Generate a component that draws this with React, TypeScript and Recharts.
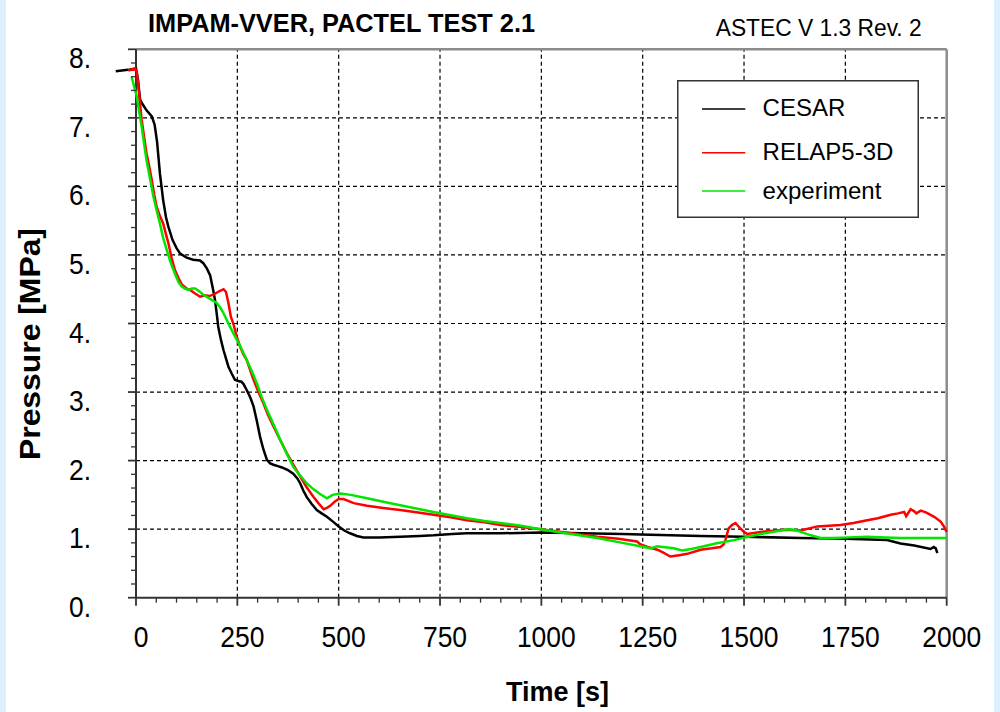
import React from 'react';
import { LineChart, Line, XAxis, YAxis, ReferenceLine, Legend } from 'recharts';

// ---- data (time [s], pressure [MPa]) ----
const cesarTime = [-50, -20, 0, 5, 10, 14, 26, 39, 46, 52, 59, 67, 74, 80, 90, 100, 109, 125, 141, 158, 166, 175, 183, 191, 195, 200, 203, 210, 216, 228, 236, 244, 252, 260, 265, 273, 282, 290, 298, 306, 314, 323, 331, 339, 350, 360, 375, 388, 398, 405, 413, 421, 433, 446, 458, 471, 486, 500, 514, 528, 545, 561, 600, 652, 700, 734, 780, 816, 899, 998, 1100, 1200, 1269, 1393, 1500, 1640, 1750, 1853, 1886, 1920, 1960, 1968, 1973, 1977];
const cesarPressure = [7.68, 7.70, 7.72, 7.55, 7.27, 7.22, 7.11, 7.02, 6.90, 6.65, 6.19, 5.80, 5.55, 5.41, 5.22, 5.10, 5.02, 4.96, 4.93, 4.92, 4.88, 4.80, 4.70, 4.47, 4.34, 4.10, 3.95, 3.75, 3.61, 3.37, 3.27, 3.18, 3.16, 3.15, 3.12, 3.03, 2.92, 2.79, 2.58, 2.35, 2.17, 2.01, 1.96, 1.94, 1.92, 1.90, 1.86, 1.81, 1.74, 1.67, 1.56, 1.47, 1.37, 1.28, 1.23, 1.18, 1.11, 1.04, 0.98, 0.94, 0.90, 0.88, 0.88, 0.89, 0.90, 0.91, 0.93, 0.94, 0.94, 0.95, 0.94, 0.93, 0.92, 0.90, 0.89, 0.87, 0.86, 0.84, 0.79, 0.76, 0.71, 0.74, 0.72, 0.65];

const relapTime = [-19, -2, 2, 6, 10, 14, 20, 26, 33, 39, 45, 51, 59, 67, 74, 80, 88, 96, 105, 113, 125, 133, 145, 158, 170, 180, 191, 205, 216, 222, 228, 234, 240, 249, 257, 265, 273, 280, 290, 300, 314, 326, 339, 355, 372, 388, 405, 421, 438, 450, 463, 471, 479, 490, 500, 512, 525, 537, 570, 610, 652, 700, 734, 780, 816, 860, 899, 950, 998, 1060, 1100, 1138, 1190, 1236, 1244, 1262, 1286, 1300, 1318, 1340, 1360, 1393, 1420, 1442, 1450, 1454, 1462, 1470, 1479, 1491, 1500, 1508, 1541, 1598, 1640, 1681, 1738, 1770, 1804, 1830, 1862, 1880, 1895, 1900, 1911, 1920, 1925, 1936, 1950, 1969, 1985, 1993, 2000];
const relapPressure = [7.69, 7.72, 7.67, 7.45, 7.20, 6.97, 6.72, 6.48, 6.28, 6.09, 5.88, 5.70, 5.57, 5.46, 5.30, 5.17, 4.95, 4.78, 4.66, 4.57, 4.51, 4.49, 4.44, 4.39, 4.41, 4.40, 4.42, 4.47, 4.50, 4.46, 4.30, 4.10, 4.00, 3.80, 3.66, 3.55, 3.47, 3.35, 3.18, 3.03, 2.84, 2.66, 2.50, 2.31, 2.11, 1.94, 1.77, 1.61, 1.47, 1.38, 1.29, 1.31, 1.34, 1.40, 1.44, 1.44, 1.41, 1.38, 1.34, 1.31, 1.28, 1.24, 1.21, 1.17, 1.13, 1.10, 1.06, 1.03, 1.00, 0.95, 0.92, 0.89, 0.86, 0.82, 0.78, 0.74, 0.70, 0.66, 0.60, 0.62, 0.64, 0.70, 0.72, 0.74, 0.78, 0.84, 1.01, 1.06, 1.09, 1.01, 0.96, 0.93, 0.96, 0.99, 0.98, 1.04, 1.06, 1.09, 1.13, 1.16, 1.21, 1.23, 1.25, 1.19, 1.29, 1.26, 1.23, 1.27, 1.24, 1.18, 1.11, 1.04, 0.96];

const expTime = [-11, 2, 8, 14, 20, 26, 35, 43, 51, 59, 67, 76, 86, 96, 105, 113, 121, 129, 138, 146, 156, 166, 183, 199, 207, 216, 228, 240, 257, 273, 286, 298, 310, 323, 340, 356, 372, 388, 405, 421, 438, 455, 471, 485, 504, 530, 570, 610, 652, 700, 734, 780, 816, 860, 899, 950, 998, 1060, 1138, 1200, 1244, 1269, 1286, 1300, 1327, 1347, 1370, 1393, 1430, 1475, 1510, 1541, 1580, 1607, 1625, 1640, 1665, 1689, 1720, 1760, 1804, 1850, 1886, 1950, 2000];
const expPressure = [7.60, 7.31, 7.08, 6.87, 6.62, 6.38, 6.10, 5.85, 5.65, 5.46, 5.25, 5.07, 4.88, 4.73, 4.60, 4.54, 4.51, 4.49, 4.51, 4.51, 4.47, 4.42, 4.36, 4.30, 4.24, 4.15, 4.00, 3.86, 3.67, 3.47, 3.30, 3.13, 2.93, 2.74, 2.52, 2.30, 2.10, 1.91, 1.78, 1.67, 1.58, 1.51, 1.45, 1.50, 1.52, 1.50, 1.45, 1.40, 1.35, 1.29, 1.25, 1.20, 1.16, 1.12, 1.09, 1.05, 1.00, 0.94, 0.87, 0.80, 0.75, 0.72, 0.75, 0.74, 0.72, 0.69, 0.71, 0.74, 0.79, 0.84, 0.89, 0.93, 0.97, 1.00, 0.99, 0.96, 0.91, 0.87, 0.87, 0.88, 0.89, 0.88, 0.87, 0.87, 0.87];

const seriesNames = ['CESAR', 'RELAP5-3D', 'experiment'];
const seriesColors = ['#000000', '#ff0000', '#00e600'];

const xTicks = Array.from({ length: 41 }, (_, i) => i * 50);
const xMajor = [250, 500, 750, 1000, 1250, 1500, 1750];
const yTicks = Array.from({ length: 41 }, (_, i) => i / 5);
const yMajor = [1, 2, 3, 4, 5, 6, 7];

const zip = (t: number[], p: number[]) => t.map((v, i) => ({ t: v, p: p[i] }));
const cesarData = zip(cesarTime, cesarPressure);
const relapData = zip(relapTime, relapPressure);
const expData = zip(expTime, expPressure);

// ---- layout ----
const W = 1000;
const H = 712;
const PLOT_TOP = 49.3;
const PLOT_BOTTOM = 597.7;
const PLOT_RIGHT = 946.7;
const X_MIN = -50;
const X_MAX = 2000;
const AXIS_X = 136;
const PLOT_LEFT = AXIS_X - ((0 - X_MIN) / X_MAX) * (PLOT_RIGHT - AXIS_X);
const AXIS_SIZE = 1;
const FONT = "'Liberation Sans', Arial, Helvetica, sans-serif";

function StretchText(props: any) {
  const { x, y, sy = 1, children, ...rest } = props;
  return (
    <text transform={`translate(${x},${y}) scale(1,${sy})`} x={0} y={0} fontFamily={FONT} fill="#000" {...rest}>
      {children}
    </text>
  );
}

function XTick(props: any) {
  const { x, payload } = props;
  const v = payload.value;
  const major = v % 250 === 0;
  return (
    <g>
      <line x1={x} x2={x} y1={PLOT_BOTTOM} y2={PLOT_BOTTOM + (major ? 8 : 5)} stroke="#333" strokeWidth={major ? 1.8 : 1.3} />
      {major && (
        <StretchText x={x + 5} y={647} sy={1.12} fontSize={26.5} textAnchor="middle">
          {String(v)}
        </StretchText>
      )}
    </g>
  );
}

function YTick(props: any) {
  const { y, payload } = props;
  const v = payload.value;
  const major = Math.abs(v - Math.round(v)) < 1e-6;
  return (
    <g>
      <line x1={AXIS_X - (major ? 8 : 5)} x2={AXIS_X} y1={y} y2={y} stroke="#333" strokeWidth={major ? 1.8 : 1.3} />
      {major && (
        <StretchText x={91} y={y + 19} sy={1.12} fontSize={26.5} textAnchor="end">
          {`${Math.round(v)}.`}
        </StretchText>
      )}
    </g>
  );
}

const legendRows = [
  { lineY: 29, textY: 35.5 },
  { lineY: 72.7, textY: 80 },
  { lineY: 111, textY: 119 },
];

function LegendBox() {
  return (
    <svg width={242} height={138} style={{ display: 'block' }}>
      <rect x={0.75} y={0.75} width={240.5} height={136.5} fill="#fff" stroke="#333" strokeWidth={1.5} />
      {seriesNames.map((n, i) => (
        <g key={n}>
          <line x1={25} x2={68.3} y1={legendRows[i].lineY} y2={legendRows[i].lineY} stroke={seriesColors[i]} strokeWidth={1.6} />
          <text x={85.6} y={legendRows[i].textY} fontSize={24} fontFamily={FONT} fill="#000">
            {n}
          </text>
        </g>
      ))}
    </svg>
  );
}

export default function App() {
  return (
    <div style={{ position: 'absolute', left: 0, top: 0, width: W, height: H, background: '#fff', overflow: 'hidden' }}>
      <div style={{ position: 'absolute', left: 0, top: 0, width: 6, height: H, background: '#dcefff' }} />
      <div style={{ position: 'absolute', right: 0, top: 0, width: 6, height: H, background: '#dcefff' }} />
      <div style={{ position: 'absolute', left: 0, top: 0 }}>
        <LineChart
          width={W}
          height={H}
          margin={{ top: PLOT_TOP, right: W - PLOT_RIGHT, bottom: H - PLOT_BOTTOM - AXIS_SIZE, left: PLOT_LEFT - AXIS_SIZE }}
        >
          <XAxis
            type="number"
            dataKey="t"
            domain={[X_MIN, X_MAX]}
            ticks={xTicks}
            interval={0}
            height={AXIS_SIZE}
            axisLine={false}
            tickLine={false}
            tick={<XTick />}
          />
          <YAxis
            type="number"
            domain={[0, 8]}
            ticks={yTicks}
            interval={0}
            width={AXIS_SIZE}
            axisLine={false}
            tickLine={false}
            tick={<YTick />}
          />
          {xMajor.map((v) => (
            <ReferenceLine key={'vx' + v} segment={[{ x: v, y: 0 }, { x: v, y: 8 }]} stroke="#000" strokeWidth={1.2} strokeDasharray="4 3" />
          ))}
          {yMajor.map((v) => (
            <ReferenceLine key={'hy' + v} segment={[{ x: 0, y: v }, { x: 2000, y: v }]} stroke="#000" strokeWidth={1.2} strokeDasharray="4 3" />
          ))}
          <ReferenceLine segment={[{ x: 0, y: 8 }, { x: 2000, y: 8 }]} stroke="#8c8c8c" strokeWidth={2.5} />
          <ReferenceLine segment={[{ x: 2000, y: 0 }, { x: 2000, y: 8 }]} stroke="#8c8c8c" strokeWidth={2.5} />
          <ReferenceLine segment={[{ x: 0, y: 0 }, { x: 2000, y: 0 }]} stroke="#333" strokeWidth={2} />
          <ReferenceLine segment={[{ x: 0, y: 0 }, { x: 0, y: 8 }]} stroke="#333" strokeWidth={2} />
          <Line data={cesarData} dataKey="p" name={seriesNames[0]} type="linear" stroke={seriesColors[0]} strokeWidth={2.5} dot={false} activeDot={false} isAnimationActive={false} />
          <Line data={relapData} dataKey="p" name={seriesNames[1]} type="linear" stroke={seriesColors[1]} strokeWidth={2.5} dot={false} activeDot={false} isAnimationActive={false} />
          <Line data={expData} dataKey="p" name={seriesNames[2]} type="linear" stroke={seriesColors[2]} strokeWidth={2.5} dot={false} activeDot={false} isAnimationActive={false} />
          <Legend
            layout="vertical"
            align="center"
            verticalAlign="middle"
            wrapperStyle={{ position: 'absolute', left: 676.7, top: 80, width: 242, height: 138 }}
            content={() => <LegendBox />}
          />
        </LineChart>
      </div>
      <svg width={W} height={H} style={{ position: 'absolute', left: 0, top: 0, pointerEvents: 'none' }}>
        <StretchText x={148} y={32.3} sy={1.06} fontSize={25} fontWeight="bold" textLength={387} lengthAdjust="spacingAndGlyphs">
          IMPAM-VVER, PACTEL TEST 2.1
        </StretchText>
        <StretchText x={715.7} y={36} sy={1.09} fontSize={22.6} textLength={206} lengthAdjust="spacingAndGlyphs">
          ASTEC V 1.3 Rev. 2
        </StretchText>
        <StretchText x={557.5} y={701} fontSize={27} fontWeight="bold" textAnchor="middle">
          Time [s]
        </StretchText>
        <text
          transform="translate(40,344) rotate(-90)"
          x={0}
          y={0}
          fontSize={30}
          fontWeight="bold"
          fontFamily={FONT}
          textAnchor="middle"
          textLength={232}
          lengthAdjust="spacingAndGlyphs"
          fill="#000"
        >
          Pressure [MPa]
        </text>
      </svg>
    </div>
  );
}
